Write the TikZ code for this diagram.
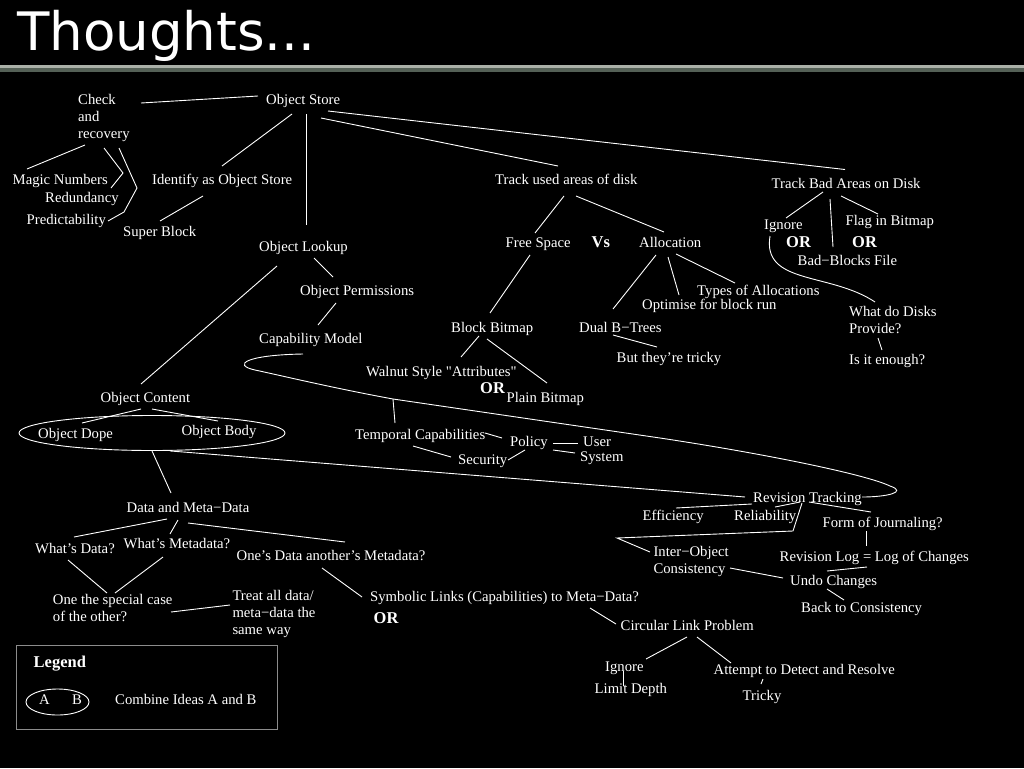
\documentclass[tikz,border=0pt]{standalone}
\usepackage{fontspec}
\setmainfont{Liberation Serif}
\newfontfamily\bodyfont{Liberation Serif}
\newfontfamily\titlefont{DejaVu Sans}
\usetikzlibrary{shapes.geometric}
\definecolor{barlight}{RGB}{170,176,168}
\definecolor{bardark}{RGB}{84,96,86}
\definecolor{boxgray}{RGB}{140,140,140}
\tikzset{
  lbl/.style={anchor=base west, inner sep=0pt, text=white, font=\bodyfont\fontsize{14.7}{17}\selectfont},
  mlbl/.style={anchor=north west, inner sep=0pt, text=white, align=left, font=\bodyfont\fontsize{14.7}{17}\selectfont},
  boldlbl/.style={anchor=base west, inner sep=0pt, text=white, font=\bodyfont\fontsize{16.5}{18}\selectfont\bfseries},
  conn/.style={draw=white, line width=0.9pt},
  ringshape/.style={draw=white, line width=0.9pt, ellipse, inner sep=0pt}
}
\begin{document}
\begin{tikzpicture}[x=1pt,y=-1pt]
\fill[black] (0,0) rectangle (1024,768);
\useasboundingbox (0,0) rectangle (1024,768);
% title and bar
\node[anchor=base west, inner sep=0pt, text=white, font=\titlefont\fontsize{53}{60}\selectfont] (title) at (17,50) {Thoughts...};
\fill[barlight] (0,64.5) rectangle (1024,68);
\fill[bardark] (0,68) rectangle (1024,71.5);

% nodes
\node[mlbl] (chk) at (78,93.5) {\rule{0pt}{10.5pt}Check\\and\\recovery};
\node[lbl] (os) at (266,104) {Object Store};
\node[lbl] (mag) at (12.5,184) {Magic Numbers};
\node[lbl] (red) at (45,202) {Redundancy};
\node[lbl] (pred) at (26.5,224) {Predictability};
\node[lbl] (ident) at (152,184) {Identify as Object Store};
\node[lbl] (sb) at (123,236) {Super Block};
\node[lbl] (ol) at (259,251) {Object Lookup};
\node[lbl] (op) at (300,295) {Object Permissions};
\node[lbl] (cm) at (259,343) {Capability Model};
\node[lbl] (oc) at (100.5,402) {Object Content};
\node[lbl] (odope) at (38,438) {Object Dope};
\node[lbl] (obody) at (181.5,435) {Object Body};
\node[lbl] (tu) at (495,184) {Track used areas of disk};
\node[lbl] (fs) at (505.5,247) {Free Space};
\node[boldlbl] (vs) at (591.5,247) {Vs};
\node[lbl] (alloc) at (639,247) {Allocation};
\node[lbl] (tb) at (771.5,188.5) {Track Bad Areas on Disk};
\node[lbl] (ign) at (764,229) {Ignore};
\node[lbl] (flag) at (845.5,225) {Flag in Bitmap};
\node[boldlbl] (or1) at (786,247) {OR};
\node[boldlbl] (or2) at (852,247) {OR};
\node[lbl] (bbf) at (797.5,265) {Bad−Blocks File};
\node[lbl] (types) at (697,295) {Types of Allocations};
\node[lbl] (opt) at (642,309) {Optimise for block run};
\node[lbl] (dual) at (579,332) {Dual B−Trees};
\node[lbl] (tricky) at (616.5,362) {But they’re tricky};
\node[mlbl] (disks) at (849,306.2) {\rule{0pt}{10.5pt}What do Disks\\Provide?};
\node[lbl] (enough) at (849,364) {Is it enough?};
\node[lbl] (bbm) at (451,332) {Block Bitmap};
\node[lbl] (walnut) at (366,376) {Walnut Style "Attributes"};
\node[boldlbl] (or3) at (480,393.5) {OR};
\node[lbl] (plain) at (506.5,402) {Plain Bitmap};
\node[lbl] (temp) at (355,439.5) {Temporal Capabilities};
\node[lbl] (policy) at (510,446) {Policy};
\node[lbl] (user) at (583,446) {User};
\node[lbl] (system) at (580,461) {System};
\node[lbl] (security) at (458,464.5) {Security};
\node[lbl] (rt) at (753,502) {Revision Tracking};
\node[lbl] (eff) at (642.5,520) {Efficiency};
\node[lbl] (rel) at (734,520) {Reliability};
\node[lbl] (foj) at (822.5,527.5) {Form of Journaling?};
\node[mlbl] (inter) at (653.3,546.2) {\rule{0pt}{10.5pt}Inter−Object\\Consistency};
\node[lbl] (rlog) at (779.5,561) {Revision Log = Log of Changes};
\node[lbl] (undo) at (790,585) {Undo Changes};
\node[lbl] (back) at (801,612) {Back to Consistency};
\node[lbl] (clp) at (620.5,630) {Circular Link Problem};
\node[lbl] (dmd) at (126.5,512) {Data and Meta−Data};
\node[lbl] (wd) at (35,553) {What’s Data?};
\node[lbl] (wm) at (123.5,548.5) {What’s Metadata?};
\node[lbl] (oda) at (236.5,560) {One’s Data another’s Metadata?};
\node[mlbl] (special) at (52.7,593.5) {\rule{0pt}{10.5pt}One the special case\\of the other?};
\node[mlbl] (treat) at (232.3,590.2) {\rule{0pt}{10.5pt}Treat all data/\\meta−data the\\same way};
\node[lbl] (sym) at (370,601) {Symbolic Links (Capabilities) to Meta−Data?};
\node[boldlbl] (or4) at (373.5,623) {OR};
\node[lbl] (ign2) at (605,671) {Ignore};
\node[lbl] (limit) at (594.5,693) {Limit Depth};
\node[lbl] (att) at (713.5,674) {Attempt to Detect and Resolve};
\node[lbl] (tricky2) at (742.5,700) {Tricky};

% combine ellipse around Object Dope / Object Body
\node[ringshape, minimum width=266pt, minimum height=35pt] (dopebody) at (152,433) {};

% legend
\node[draw=boxgray, line width=0.9pt, minimum width=261pt, minimum height=84pt, inner sep=0pt] (legbox) at (146.5,687) {};
\node[boldlbl] (leg) at (33.5,667) {Legend};
\node[ringshape, minimum width=63pt, minimum height=26pt] (legell) at (57.5,702) {};
\node[lbl] (la) at (39,704) {A};
\node[lbl] (lb) at (72,704) {B};
\node[lbl] (lcomb) at (115,704) {Combine Ideas A and B};

% connectors
\draw[conn] ([shift={(63,9.5)}]chk.north west) -- ([shift={(-8,-8)}]os.base west);
\draw[conn] ([shift={(26,10)}]os.base west) -- ([shift={(70,-18)}]ident.base west);
\draw[conn] ([shift={(40,10)}]os.base west) -- ([shift={(47,-26)}]ol.base west);
\draw[conn] ([shift={(55,14)}]os.base west) -- ([shift={(63,-18)}]tu.base west);
\draw[conn] ([shift={(62,7)}]os.base west) -- ([shift={(73.5,-19)}]tb.base west);
\draw[conn] ([shift={(7,51.5)}]chk.north west) -- ([shift={(14.5,-15)}]mag.base west);
\draw[conn] ([shift={(26,54.5)}]chk.north west) -- ++(19,25) -- ([shift={(98.5,4)}]mag.base west);
\draw[conn] ([shift={(41,54.5)}]chk.north west) -- ++(18,40) -- ++(-13,24) -- ([shift={(81.5,-3)}]pred.base west);
\draw[conn] ([shift={(51,12)}]ident.base west) -- ([shift={(37,-15)}]sb.base west);
\draw[conn] ([shift={(55,7)}]ol.base west) -- ([shift={(33,-18)}]op.base west);
\draw[conn] ([shift={(36,8)}]op.base west) -- ([shift={(59,-18)}]cm.base west);
\draw[conn] ([shift={(18,15)}]ol.base west) -- ([shift={(40.5,-18)}]oc.base west);
\draw[conn] ([shift={(40.5,7)}]oc.base west) -- ([shift={(44,-15)}]odope.base west);
\draw[conn] ([shift={(51.5,7)}]oc.base west) -- ([shift={(36.5,-14)}]obody.base west);
\draw[conn] (dopebody.south) -- ([shift={(44.5,-19)}]dmd.base west);
\draw[conn] ([xshift=18pt]dopebody.south) -- ([shift={(-8,-5)}]rt.base west);
\draw[conn] ([shift={(40.5,7)}]dmd.base west) -- ([shift={(39,-16)}]wd.base west);
\draw[conn] ([shift={(51.5,8)}]dmd.base west) -- ([shift={(46.5,-14.5)}]wm.base west);
\draw[conn] ([shift={(61.5,11)}]dmd.base west) -- ([shift={(108.5,-18)}]oda.base west);
\draw[conn] ([shift={(33,7)}]wd.base west) -- ([shift={(54.3,-0.5)}]special.north west);
\draw[conn] ([shift={(39.5,8.5)}]wm.base west) -- ([shift={(62.3,-0.5)}]special.north west);
\draw[conn] ([shift={(118.3,18.5)}]special.north west) -- ([shift={(-2.3,14.8)}]treat.north west);
\draw[conn] ([shift={(85.5,8)}]oda.base west) -- ([shift={(-8,-4)}]sym.base west);
\draw[conn] ([shift={(220,7)}]sym.base west) -- ([shift={(-4.5,-6)}]clp.base west);
\draw[conn] ([shift={(66.5,7)}]clp.base west) -- ([shift={(41,-12)}]ign2.base west);
\draw[conn] ([shift={(76.5,7)}]clp.base west) -- ([shift={(17.5,-11)}]att.base west);
\draw[conn] ([shift={(18,0)}]ign2.base west) -- ([shift={(28.5,-7)}]limit.base west);
\draw[conn] ([shift={(49.5,5)}]att.base west) -- ([shift={(18.5,-16)}]tricky2.base west);
\draw[conn] ([shift={(69,12)}]tu.base west) -- ([shift={(29.5,-14)}]fs.base west);
\draw[conn] ([shift={(81,12)}]tu.base west) -- ([shift={(25,-15)}]alloc.base west);
\draw[conn] ([shift={(17,8)}]alloc.base west) -- ([shift={(34,-23)}]dual.base west);
\draw[conn] ([shift={(29,10)}]alloc.base west) -- ([shift={(37,-14)}]opt.base west);
\draw[conn] ([shift={(37,7)}]alloc.base west) -- ([shift={(38,-12)}]types.base west);
\draw[conn] ([shift={(34,3)}]dual.base west) -- ([shift={(40.5,-15)}]tricky.base west);
\draw[conn] ([shift={(24.5,8)}]fs.base west) -- ([shift={(39,-19)}]bbm.base west);
\draw[conn] ([shift={(28,4)}]bbm.base west) -- ([shift={(95,-19)}]walnut.base west);
\draw[conn] ([shift={(36,7)}]bbm.base west) -- ([shift={(40.5,-19)}]plain.base west);
\draw[conn] ([shift={(51.5,3.5)}]tb.base west) -- ([shift={(22,-11)}]ign.base west);
\draw[conn] ([shift={(58.5,10.5)}]tb.base west) -- ([shift={(35.5,-18)}]bbf.base west);
\draw[conn] ([shift={(69.5,7.5)}]tb.base west) -- ([shift={(32.5,-11)}]flag.base west);
\draw[conn] ([shift={(6,7)}]ign.base west) .. controls +(-8,49) and +(-45,-30) .. ([shift={(26,-4.2)}]disks.north west);
\draw[conn] ([shift={(29,31.8)}]disks.north west) -- ([shift={(33,-14)}]enough.base west);
% big combine loop: Capability Model with Revision Tracking
\draw[conn] ([shift={(44,11)}]cm.base west)
   .. controls +(-58,1) and +(-23,-5) .. ++(-48,16)
   .. controls +(28,6) and +(-60,-11) .. ++(138,29) coordinate (loopc)
   -- ++(267,39)
   .. controls +(100,15) and +(-25,-12) .. ++(230,48)
   .. controls +(18,6) and +(25,0) .. ([shift={(109,-5)}]rt.base west);
\draw[conn] (loopc) -- ([shift={(40,-16.5)}]temp.base west);
\draw[conn] ([shift={(130,-6.5)}]temp.base west) -- ([shift={(-8,-8)}]policy.base west);
\draw[conn] ([shift={(58,6.5)}]temp.base west) -- ([shift={(-7,-7.5)}]security.base west);
\draw[conn] ([shift={(50,-4.5)}]security.base west) -- ([shift={(15,4)}]policy.base west);
\draw[conn] ([shift={(43,-3)}]policy.base west) -- ([shift={(-5,-3)}]user.base west);
\draw[conn] ([shift={(43,4)}]policy.base west) -- ([shift={(-5,-8)}]system.base west);
% revision tracking
\draw[conn] ([shift={(33.5,-12)}]eff.base west) -- ([shift={(-1,2)}]rt.base west);
\draw[conn] ([shift={(41,-13)}]rel.base west) -- ([shift={(47,0)}]rt.base west);
\draw[conn] ([shift={(49,1)}]rt.base west) -- ++(-9,28) -- ++(-176,7) -- ([shift={(-3.3,5.8)}]inter.north west);
\draw[conn] ([shift={(56,0)}]rt.base west) -- ([shift={(48.5,-15.5)}]foj.base west);
\draw[conn] ([shift={(43.5,3.5)}]foj.base west) -- ([shift={(86.5,-15)}]rlog.base west);
\draw[conn] ([shift={(87.5,6)}]rlog.base west) -- ([shift={(37,-14)}]undo.base west);
\draw[conn] ([shift={(76.7,21.8)}]inter.north west) -- ([shift={(-7,-7)}]undo.base west);
\draw[conn] ([shift={(37,4)}]undo.base west) -- ([shift={(43,-12)}]back.base west);
\end{tikzpicture}
\end{document}
